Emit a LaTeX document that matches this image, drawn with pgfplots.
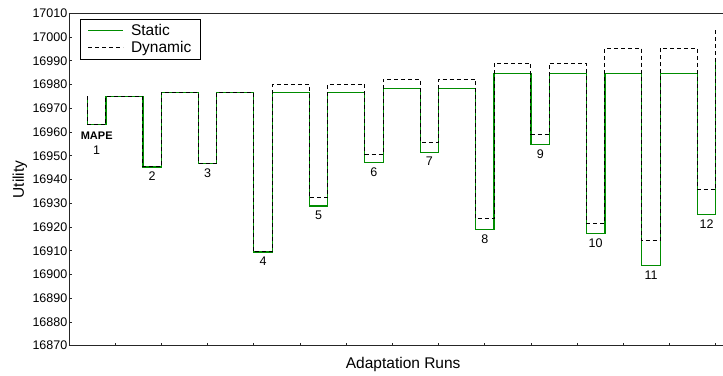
\documentclass[border=0pt]{standalone}
\usepackage{pgfplots}
\pgfplotsset{compat=1.18}
\usepackage{fontspec}
\setmainfont{Liberation Sans}
\definecolor{sgreen}{RGB}{0,140,0}
\begin{document}
\begin{tikzpicture}
\begin{axis}[name=ax, scale only axis, width=654pt, height=332.4pt,
  xmin=0, xmax=35.39, ymin=16870, ymax=17010,
  axis lines=left, axis line style={-, line width=0.8pt, black!85},
  xtick={0,2.5,...,35}, xticklabels={},
  ytick={16870,16880,...,17010}, minor y tick num=1,
  scaled y ticks=false,
  tick align=inside, major tick length=3pt, minor tick length=2pt,
  tick style={black!85, line width=0.6pt},
  yticklabel style={font=\fontsize{12.5}{14}\selectfont, inner sep=1.5pt, /pgf/number format/1000 sep={}, /pgf/number format/assume math mode=true},
  ylabel={Utility}, xlabel={Adaptation Runs},
  label style={font=\fontsize{15.5}{17}\selectfont},
  ylabel style={at={(axis description cs:-0.075,0.5)}, anchor=center},
  xlabel style={at={(axis description cs:0.511,-0.058)}, anchor=center},
  legend style={at={(axis description cs:0,1)}, anchor=north west, xshift=11pt, yshift=-5.4pt,
    draw=black, line width=0.7pt, font=\fontsize{15.5}{17}\selectfont, row sep=0.5pt,
    column sep=5pt, inner xsep=7.5pt, inner ysep=3pt},
  legend cell align=left,
  legend image code/.code={\draw[#1] (0pt,0pt) -- (35pt,0pt);},
]
\addplot[sgreen, line width=1.2pt] coordinates {
(1,16975) (1,16963) (2,16963) (2,16975) (4,16975) (4,16945.3) (5,16945.3) (5,16976.7)
(7,16976.7) (7,16946.7) (8,16946.7) (8,16976.7) (10,16976.7) (10,16909.5) (11,16909.5) (11,16976.7)
(13,16976.7) (13,16928.8) (14,16928.8) (14,16976.7) (16,16976.7) (16,16947) (17,16947) (17,16978.4)
(19,16978.4) (19,16951.5) (20,16951.5) (20,16978.4) (22,16978.4) (22,16919) (23,16919) (23,16984.7)
(25,16984.7) (25,16954.8) (26,16954.8) (26,16984.7) (28,16984.7) (28,16917.3) (29,16917.3) (29,16984.7)
(31,16984.7) (31,16903.7) (32,16903.7) (32,16984.7) (34,16984.7) (34,16925.3) (35,16925.3) (35,16991.1)
};
\addlegendentry{Static}
\addplot[black, line width=1pt, dash pattern=on 4pt off 3pt] coordinates {
(1,16975) (1,16963) (2,16963) (2,16975) (4,16975) (4,16945.3) (5,16945.3) (5,16976.7)
(7,16976.7) (7,16946.7) (8,16946.7) (8,16976.7) (10,16976.7) (10,16909.5) (11,16909.5) (11,16980.1)
(13,16980.1) (13,16932.3) (14,16932.3) (14,16980.1) (16,16980.1) (16,16950.5) (17,16950.5) (17,16982.3)
(19,16982.3) (19,16955.7) (20,16955.7) (20,16982.3) (22,16982.3) (22,16923.4) (23,16923.4) (23,16989)
(25,16989) (25,16958.9) (26,16958.9) (26,16989) (28,16989) (28,16921.6) (29,16921.6) (29,16995.3)
(31,16995.3) (31,16914.2) (32,16914.2) (32,16995.3) (34,16995.3) (34,16935.7) (35,16935.7) (35,17003.3)
};
\addlegendentry{Dynamic}
\draw[line width=0.8pt, black!85] (rel axis cs:0,1) -- (rel axis cs:1,1);
\begin{scope}[every node/.style={font=\fontsize{12.5}{14}\selectfont, anchor=north, inner sep=0pt, yshift=-5pt}]
\node[font=\fontsize{11}{13}\selectfont\bfseries, yshift=-2pt] at (axis cs:1.5,16963) {MAPE};
\node[yshift=-16pt] at (axis cs:1.5,16963) {1};
\node at (axis cs:4.5,16945.3) {2};
\node at (axis cs:7.5,16946.7) {3};
\node at (axis cs:10.5,16909.5) {4};
\node at (axis cs:13.5,16928.8) {5};
\node at (axis cs:16.5,16947) {6};
\node at (axis cs:19.5,16951.5) {7};
\node at (axis cs:22.5,16919) {8};
\node at (axis cs:25.5,16954.8) {9};
\node at (axis cs:28.5,16917.3) {10};
\node at (axis cs:31.5,16903.7) {11};
\node at (axis cs:34.5,16925.3) {12};
\end{scope}
\end{axis}
\pgfresetboundingbox
\path[use as bounding box] ([xshift=-69pt,yshift=-30.3pt]ax.south west) rectangle ([yshift=13.3pt]ax.north east);
\end{tikzpicture}
\end{document}
